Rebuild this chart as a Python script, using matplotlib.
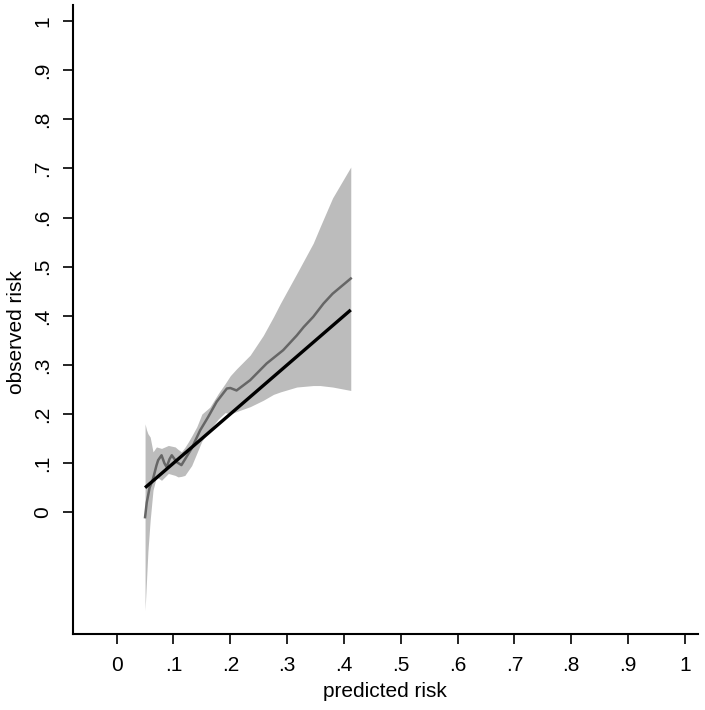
import numpy as np
import matplotlib.pyplot as plt

plt.rcParams['font.family'] = ['Liberation Sans', 'DejaVu Sans']

# smoothed observed risk (grey line)
obs_x = [0.050, 0.053, 0.058, 0.064, 0.070, 0.073, 0.079, 0.084, 0.088, 0.093,
         0.097, 0.102, 0.106, 0.114, 0.123, 0.132, 0.147, 0.161, 0.176, 0.194,
         0.200, 0.211, 0.235, 0.264, 0.293, 0.317, 0.329, 0.346, 0.364, 0.380,
         0.412]
obs_y = [-0.010, 0.020, 0.050, 0.068, 0.095, 0.106, 0.116, 0.100, 0.092, 0.108,
         0.116, 0.108, 0.102, 0.096, 0.113, 0.130, 0.167, 0.194, 0.225, 0.252,
         0.253, 0.248, 0.269, 0.303, 0.330, 0.360, 0.377, 0.398, 0.425, 0.445,
         0.476]

# confidence band
band_x = [0.050, 0.0525, 0.055, 0.059, 0.064, 0.070, 0.079, 0.091, 0.103, 0.108,
          0.114, 0.120, 0.126, 0.132, 0.141, 0.150, 0.164, 0.179, 0.191, 0.200,
          0.211, 0.235, 0.258, 0.276, 0.288, 0.317, 0.346, 0.358, 0.380, 0.412]
band_lo = [-0.200, -0.140, -0.080, -0.016, 0.045, 0.072, 0.065, 0.079, 0.075, 0.072,
           0.073, 0.075, 0.085, 0.095, 0.120, 0.145, 0.168, 0.190, 0.203, 0.200,
           0.205, 0.215, 0.228, 0.240, 0.245, 0.255, 0.258, 0.258, 0.255, 0.248]
band_hi = [0.180, 0.168, 0.160, 0.153, 0.123, 0.133, 0.130, 0.136, 0.133, 0.128,
           0.123, 0.132, 0.143, 0.155, 0.174, 0.200, 0.214, 0.242, 0.262, 0.278,
           0.292, 0.320, 0.360, 0.398, 0.425, 0.486, 0.548, 0.581, 0.640, 0.703]

# reference line (predicted = observed)
ref_x = [0.05, 0.412]

ticks = np.round(np.arange(0, 1.01, 0.1), 1)
tick_labels = ['0', '.1', '.2', '.3', '.4', '.5', '.6', '.7', '.8', '.9', '1']

fig = plt.figure(figsize=(7.05, 7.1), dpi=100)
ax = fig.add_axes([0.103, 0.107, 0.887, 0.886])

ax.fill_between(band_x, band_lo, band_hi, color='#bcbcbc', linewidth=0)
ax.plot(obs_x, obs_y, color='#666666', lw=1.8)
ax.plot(ref_x, ref_x, color='black', lw=2.4, solid_capstyle='butt')

ax.set_xlim(-0.0775, 1.023)
ax.set_ylim(-0.248, 1.033)
ax.set_xticks(ticks)
ax.set_xticklabels(tick_labels)
ax.set_yticks(ticks)
ax.set_yticklabels(tick_labels)

for s in ['top', 'right']:
    ax.spines[s].set_visible(False)
for s in ['left', 'bottom']:
    ax.spines[s].set_linewidth(1.5)

ax.tick_params(axis='both', length=7.5, width=1.2, labelsize=15, pad=8)
ax.tick_params(axis='y', labelrotation=90, pad=7)
for lab in ax.get_yticklabels():
    lab.set_va('center')

ax.set_xlabel('predicted risk', fontsize=15, labelpad=5)
ax.set_ylabel('observed risk', fontsize=15)
ax.yaxis.set_label_coords(-0.074, 0.48)

fig.savefig('out.png', dpi=100)
